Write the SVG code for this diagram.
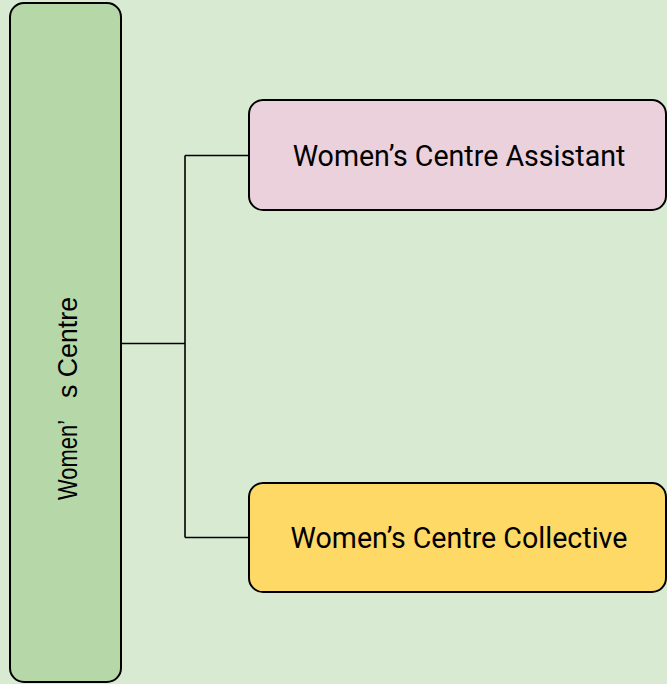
<svg xmlns="http://www.w3.org/2000/svg" width="667" height="684" viewBox="0 0 667 684">
<style>
.node{stroke:#000;stroke-width:2}
.lbl{font-family:Roboto,"Liberation Sans",sans-serif;font-size:28.6px;fill:#000;text-anchor:middle}
.vlbl{font-family:"Liberation Sans",Arial,sans-serif;font-size:28px;fill:#000}
.conn{fill:none;stroke:#000;stroke-width:1.6}
</style>
<rect x="0" y="0" width="667" height="684" fill="#d9ead3"/>
<g id="connectors">
<path class="conn" d="M121,343.5 H185 M185,155.5 V537.5 M185,155.5 H249 M185,537.5 H249"/>
</g>
<g id="node-womens-centre">
<rect class="node" x="10" y="3" width="111" height="679" rx="14" fill="#b6d7a8"/>
<text class="vlbl" transform="translate(77,500) rotate(-90)" textLength="80" lengthAdjust="spacingAndGlyphs">Women’</text>
<text class="vlbl" transform="translate(77,398) rotate(-90)" textLength="101" lengthAdjust="spacingAndGlyphs">s Centre</text>
</g>
<g id="node-assistant">
<rect class="node" x="249" y="100" width="417" height="110" rx="14" fill="#ead1dc"/>
<text class="lbl" x="459" y="166">Women’s Centre Assistant</text>
</g>
<g id="node-collective">
<rect class="node" x="249" y="483" width="417" height="109" rx="14" fill="#ffd966"/>
<text class="lbl" x="459" y="548">Women’s Centre Collective</text>
</g>
</svg>
